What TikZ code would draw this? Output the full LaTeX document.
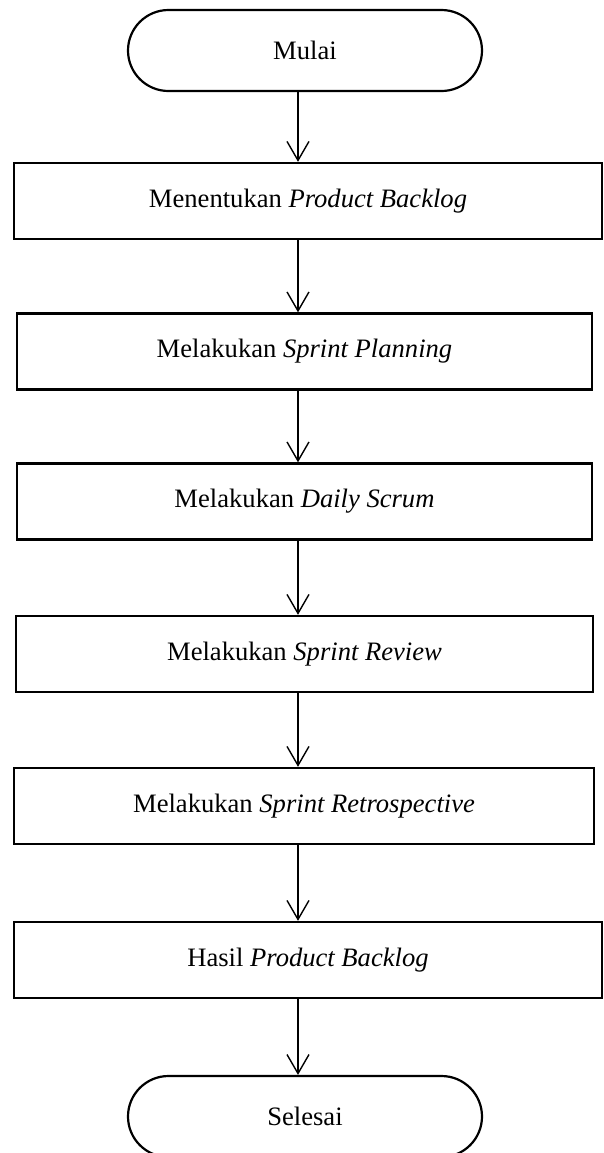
\documentclass[tikz,border=0pt]{standalone}
\usepackage{fontspec}
\setmainfont{Liberation Serif}
\usetikzlibrary{shapes.misc, arrows.meta}

\begin{document}
\begin{tikzpicture}[x=0.5pt, y=-0.5pt,
        every node/.style={font=\fontsize{13.3}{15}\selectfont, inner sep=0pt},
        terminal/.style={draw, line width=1.1pt, rounded rectangle, minimum width=177pt, minimum height=40.5pt},
        process/.style={draw, line width=1.2pt, rectangle, minimum height=38pt},
        flow/.style={line width=0.7pt, -{Straight Barb[length=9.5pt, width=11pt]}}]

        \useasboundingbox (0,0) rectangle (604,1153);
        \coordinate (axis) at (298,0);

        % start and end
            \node[terminal] (mulai) at (305,50.5) {Mulai};
            \node[terminal] (selesai) at (305,1116.5) {Selesai};

        % scrum steps
            \node[process, minimum width=294pt] (backlog) at (308,201) {Menentukan \textit{Product Backlog}};
            \node[process, minimum width=287.5pt] (planning) at (304.5,351.5) {Melakukan \textit{Sprint Planning}};
            \node[process, minimum width=287.5pt] (daily) at (304.5,501.5) {Melakukan \textit{Daily Scrum}};
            \node[process, minimum width=288.5pt] (review) at (304.5,654) {Melakukan \textit{Sprint Review}};
            \node[process, minimum width=290pt] (retro) at (304,806) {Melakukan \textit{Sprint Retrospective}};
            \node[process, minimum width=294pt] (hasil) at (308,960) {Hasil \textit{Product Backlog}};

        % arrows
            \draw[flow] (mulai.south -| axis) -- (backlog.north -| axis);
            \draw[flow] (backlog.south -| axis) -- (planning.north -| axis);
            \draw[flow] (planning.south -| axis) -- (daily.north -| axis);
            \draw[flow] (daily.south -| axis) -- (review.north -| axis);
            \draw[flow] (review.south -| axis) -- (retro.north -| axis);
            \draw[flow] (retro.south -| axis) -- (hasil.north -| axis);
            \draw[flow] (hasil.south -| axis) -- (selesai.north -| axis);

\end{tikzpicture}
\end{document}
